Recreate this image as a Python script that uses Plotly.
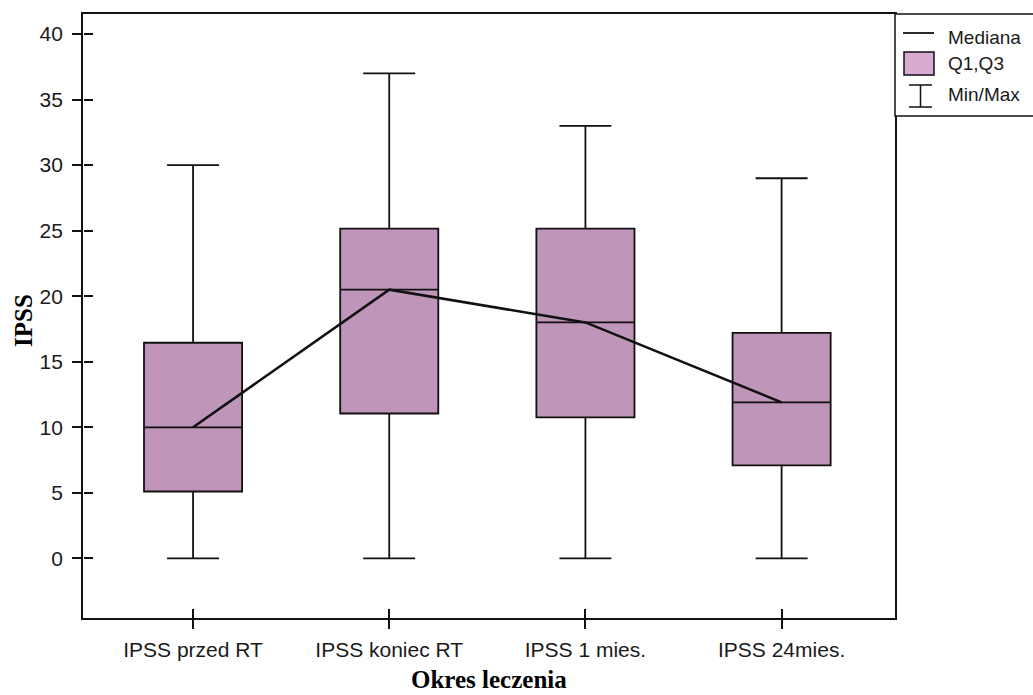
import plotly.graph_objects as go

categories = ["IPSS przed RT", "IPSS koniec RT", "IPSS 1 mies.", "IPSS 24mies."]
mins = [0, 0, 0, 0]
q1s = [5.1, 11.05, 10.75, 7.1]
medians = [10, 20.5, 18.0, 11.9]
q3s = [16.45, 25.15, 25.15, 17.2]
maxs = [30, 37, 33, 29]
ytick_vals = [0, 5, 10, 15, 20, 25, 30, 35, 40]
legend_labels = ["Mediana", "Q1,Q3", "Min/Max"]

xpos = list(range(len(categories)))

W, H = 1033, 695
L, R, T, B = 83, 895, 14, 618  # plot area in px
TICKFONT = dict(family="Liberation Sans, Arial", size=21, color="#1a1a1a")
TITLEFONT = dict(family="Liberation Serif, Times New Roman, serif", size=25, color="#000000")

fig = go.Figure()
fig.add_trace(go.Box(
    x=xpos, q1=q1s, median=medians, q3=q3s, lowerfence=mins, upperfence=maxs,
    width=0.5, whiskerwidth=0.53, fillcolor="#bf95b9",
    line=dict(color="#111111", width=1.8), boxpoints=False, showlegend=False,
    hoverinfo="skip",
))
fig.add_trace(go.Scatter(
    x=xpos, y=medians, mode="lines", line=dict(color="#111111", width=2.6),
    showlegend=False, hoverinfo="skip",
))


def px_x(p):
    return (p - L) / (R - L)


def px_y(p):
    return (B - p) / (B - T)


shapes = []
annotations = []
# legend frame
shapes.append(dict(type="rect", xref="paper", yref="paper", x0=px_x(895), x1=px_x(1045),
                   y0=px_y(116), y1=px_y(14), line=dict(color="#111111", width=1.5),
                   fillcolor="white", layer="above"))
# median line symbol
shapes.append(dict(type="line", xref="paper", yref="paper", x0=px_x(903), x1=px_x(934),
                   y0=px_y(33), y1=px_y(33), line=dict(color="#111111", width=1.8)))
# box symbol
shapes.append(dict(type="rect", xref="paper", yref="paper", x0=px_x(904), x1=px_x(934),
                   y0=px_y(75), y1=px_y(52), line=dict(color="#111111", width=1.5),
                   fillcolor="#d9a9d2"))
# I-bar symbol
shapes.append(dict(type="line", xref="paper", yref="paper", x0=px_x(920.5), x1=px_x(920.5),
                   y0=px_y(85), y1=px_y(107), line=dict(color="#111111", width=1.5)))
shapes.append(dict(type="line", xref="paper", yref="paper", x0=px_x(909), x1=px_x(932),
                   y0=px_y(85), y1=px_y(85), line=dict(color="#111111", width=1.5)))
shapes.append(dict(type="line", xref="paper", yref="paper", x0=px_x(909), x1=px_x(932),
                   y0=px_y(107), y1=px_y(107), line=dict(color="#111111", width=1.5)))
for lbl, yy in zip(legend_labels, [37, 63, 95]):
    annotations.append(dict(text=lbl, xref="paper", yref="paper", x=px_x(946), y=px_y(yy),
                            xanchor="left", yanchor="middle", showarrow=False,
                            font=dict(family="Liberation Sans, Arial", size=19, color="#1a1a1a")))
# axis titles
annotations.append(dict(text="<b>Okres leczenia</b>", xref="paper", yref="paper",
                        x=px_x(489), y=px_y(679), xanchor="center", yanchor="middle",
                        showarrow=False, font=TITLEFONT))
annotations.append(dict(text="<b>IPSS</b>", xref="paper", yref="paper",
                        x=px_x(23), y=px_y(320), xanchor="center", yanchor="middle",
                        textangle=-90, showarrow=False, font=TITLEFONT))

xr = [-0.561, 3.578]
yr = [-4.55, 41.53]

fig.update_layout(
    width=W, height=H,
    margin=dict(l=L, r=W - R, t=T, b=H - B, pad=0),
    plot_bgcolor="white", paper_bgcolor="white",
    shapes=shapes, annotations=annotations,
    xaxis=dict(range=xr, tickvals=xpos, ticktext=categories, showgrid=False, zeroline=False,
               showline=True, linecolor="#111111", linewidth=1.8, mirror=True,
               ticks="outside", ticklen=9, tickwidth=1.5, tickcolor="#111111",
               tickfont=TICKFONT, ticklabelstandoff=3),
    yaxis=dict(range=yr, tickvals=ytick_vals, showgrid=False, zeroline=False,
               showline=True, linecolor="#111111", linewidth=1.8, mirror=True,
               ticks="outside", ticklen=9, tickwidth=1.5, tickcolor="#111111",
               tickfont=TICKFONT, ticklabelstandoff=5),
    xaxis2=dict(range=xr, tickvals=xpos, overlaying="x", side="top", anchor="free", position=0,
                showticklabels=False, ticks="outside", ticklen=9, tickwidth=1.5,
                tickcolor="#111111", showgrid=False, zeroline=False, showline=False),
    yaxis2=dict(range=yr, tickvals=ytick_vals, overlaying="y", side="right", anchor="free",
                position=0, showticklabels=False, ticks="outside", ticklen=9, tickwidth=1.5,
                tickcolor="#111111", showgrid=False, zeroline=False, showline=False),
)
# invisible trace to activate overlay axes
fig.add_trace(go.Scatter(x=[0], y=[0], xaxis="x2", yaxis="y2", mode="markers",
                         marker=dict(opacity=0), showlegend=False, hoverinfo="skip"))

fig.write_html("out.html", config={"displayModeBar": False},
               post_script="document.body.style.margin='0';document.body.style.overflow='hidden';")
